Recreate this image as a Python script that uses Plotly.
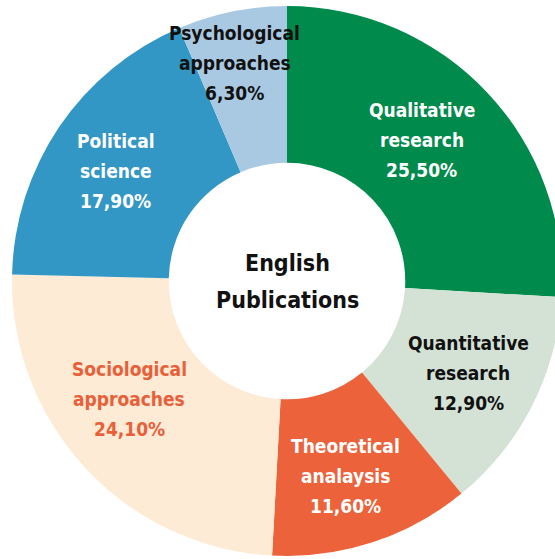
import math
import plotly.graph_objects as go

# ---- data ----
categories = ["Qualitative research", "Quantitative research", "Theoretical analaysis",
              "Sociological approaches", "Political science", "Psychological approaches"]
label_lines = [["Qualitative", "research"], ["Quantitative", "research"], ["Theoretical", "analaysis"],
               ["Sociological", "approaches"], ["Political", "science"], ["Psychological", "approaches"]]
values = [25.5, 12.9, 11.6, 24.1, 17.9, 6.3]
center_title = ["English", "Publications"]

# ---- style ----
slice_colors = ["#008a4b", "#d3e2d5", "#ec633b", "#fdebd5", "#3397c5", "#a9c9e3"]
text_colors = ["#ffffff", "#111111", "#ffffff", "#e8603a", "#ffffff", "#111111"]
label_radius = [0.71, 0.74, 0.74, 0.715, 0.74, 0.815]   # fraction of outer radius
angle_nudge = [-3.0, 0.0, 1.3, 6.0, -1.4, -1.9]         # degrees
FONT = "Liberation Sans Narrow, DejaVu Sans Condensed, Arial Narrow, sans-serif"
LABEL_SIZE, LABEL_GAP = 19, 30
TITLE_SIZE, TITLE_GAP = 23, 37

W, H = 575, 559
CX, CY, R = 287, 281, 275
HOLE = 0.43

dom_x = [(CX - R) / W, (CX + R) / W]
dom_y = [(H - CY - R) / H, (H - CY + R) / H]

fig = go.Figure(go.Pie(
    labels=categories, values=values, sort=False, direction="clockwise", rotation=0,
    hole=HOLE, marker=dict(colors=slice_colors, line=dict(width=0)),
    textinfo="none", hoverinfo="label+value", showlegend=False,
    domain=dict(x=dom_x, y=dom_y),
))

def add_block(lines, px, py, size, gap, color):
    n = len(lines)
    for j, t in enumerate(lines):
        fig.add_annotation(
            x=px / W, y=1 - py / H, xref="paper", yref="paper", text=t, showarrow=False,
            xanchor="center", yanchor="middle", align="center",
            yshift=((n - 1) / 2 - j) * gap,
            font=dict(family=FONT, size=size, color=color, weight=700),
        )

total = sum(values)
cum = 0.0
for i, v in enumerate(values):
    mid = (cum + v / 2) / total * 360 + angle_nudge[i]
    cum += v
    r = label_radius[i] * R
    px = CX + r * math.sin(math.radians(mid))
    py = CY - r * math.cos(math.radians(mid))
    lines = label_lines[i] + [f"{v:.2f}".replace(".", ",") + "%"]
    add_block(lines, px, py, LABEL_SIZE, LABEL_GAP, text_colors[i])

add_block(center_title, CX, CY, TITLE_SIZE, TITLE_GAP, "#111111")

fig.update_layout(
    width=W, height=H, margin=dict(l=0, r=0, t=0, b=0),
    paper_bgcolor="white", plot_bgcolor="white",
)

fig.write_html("out.html", config={"displayModeBar": False},
               post_script="document.body.style.margin='0';document.body.style.overflow='hidden';")
